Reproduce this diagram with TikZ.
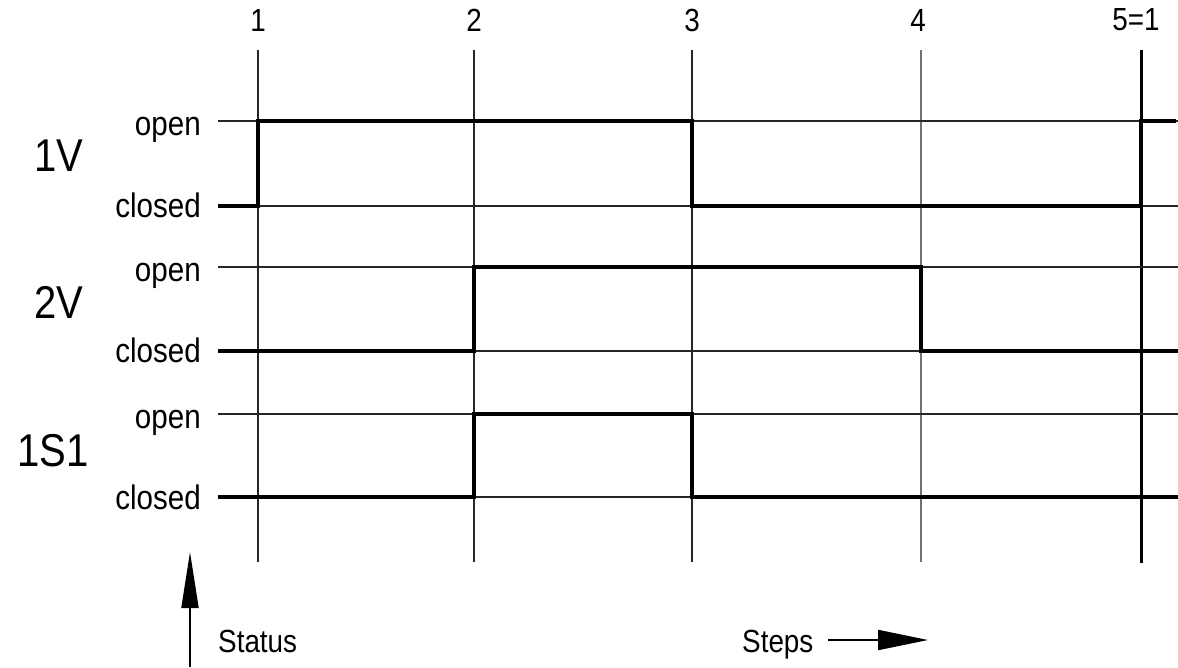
\documentclass[tikz,border=0pt]{standalone}
\usepackage{fontspec}
\setmainfont{Liberation Sans}[FakeStretch=0.87]
\usetikzlibrary{arrows.meta}
\begin{document}
\begin{tikzpicture}[x=1pt,y=-1pt,
  num/.style={inner sep=0pt, font=\fontsize{32}{36}\selectfont},
  lvl/.style={inner sep=0pt, anchor=east, font=\fontsize{34}{38}\selectfont},
  sig/.style={inner sep=0pt, font=\fontsize{46}{50}\selectfont},
  note/.style={inner sep=0pt, anchor=west, font=\fontsize{32}{36}\selectfont},
  grid/.style={line width=1.7pt, black!85},
  stepline/.style={line width=1.8pt, black!85},
  wave/.style={line width=3.8pt, black, line join=miter},
  bigarrow/.style={line width=2pt, -{Triangle[length=56pt,width=17pt]}}]
\useasboundingbox (0,0) rectangle (1178,667);
% step numbers
\node[num] (n1) at (258,20) {1};
\node[num] (n2) at (474,20) {2};
\node[num] (n3) at (692,20) {3};
\node[num] (n4) at (918,20) {4};
\node[num] (n5) at (1136,20) {5=1};
% vertical step lines
\coordinate (t1) at (258,50);  \coordinate (b1) at (258,562);
\coordinate (t2) at (474,50);  \coordinate (b2) at (474,562);
\coordinate (t3) at (692,50);  \coordinate (b3) at (692,562);
\coordinate (t4) at (921,50);  \coordinate (b4) at (921,562);
\coordinate (t5) at (1141,50); \coordinate (b5) at (1141,563);
\draw[stepline] (t1) -- (b1);
\draw[stepline] (t2) -- (b2);
\draw[stepline] (t3) -- (b3);
\draw[stepline, black!55] (t4) -- (b4);
\draw[line width=3pt] (t5) -- (b5);
% horizontal level lines
\foreach \y in {121,206,267,351,414,497}
  \draw[grid] (218,\y) -- (1178,\y);
% labels
\node[sig] (s1) at (59,156) {1V};
\node[sig] (s2) at (59,302) {2V};
\node[sig] (s3) at (53,451) {1S1};
\node[lvl] (o1) at (201,130) {open};
\node[lvl] (c1) at (201,205) {closed};
\node[lvl] (o2) at (201,276) {open};
\node[lvl] (c2) at (201,350) {closed};
\node[lvl] (o3) at (201,423) {open};
\node[lvl] (c3) at (201,497) {closed};
% waveforms
\draw[wave] (218,206) -- (258,206) -- (258,121) -- (692,121) -- (692,206) -- (1141,206) -- (1141,121) -- (1176,121);
\draw[wave] (218,351) -- (474,351) -- (474,267) -- (921,267) -- (921,351) -- (1178,351);
\draw[wave] (218,497) -- (474,497) -- (474,414) -- (692,414) -- (692,497) -- (1178,497);
% status / steps
\coordinate (sa) at (190,667);
\coordinate (sb) at (190,552);
\draw[bigarrow] (sa) -- (sb);
\node[note] (status) at (218,641) {Status};
\node[note] (steps) at (742,645) {Steps};
\coordinate (ea) at (828,640);
\coordinate (eb) at (928,640);
\draw[line width=2pt, -{Triangle[length=50pt,width=20pt]}] (ea) -- (eb);
\end{tikzpicture}
\end{document}
